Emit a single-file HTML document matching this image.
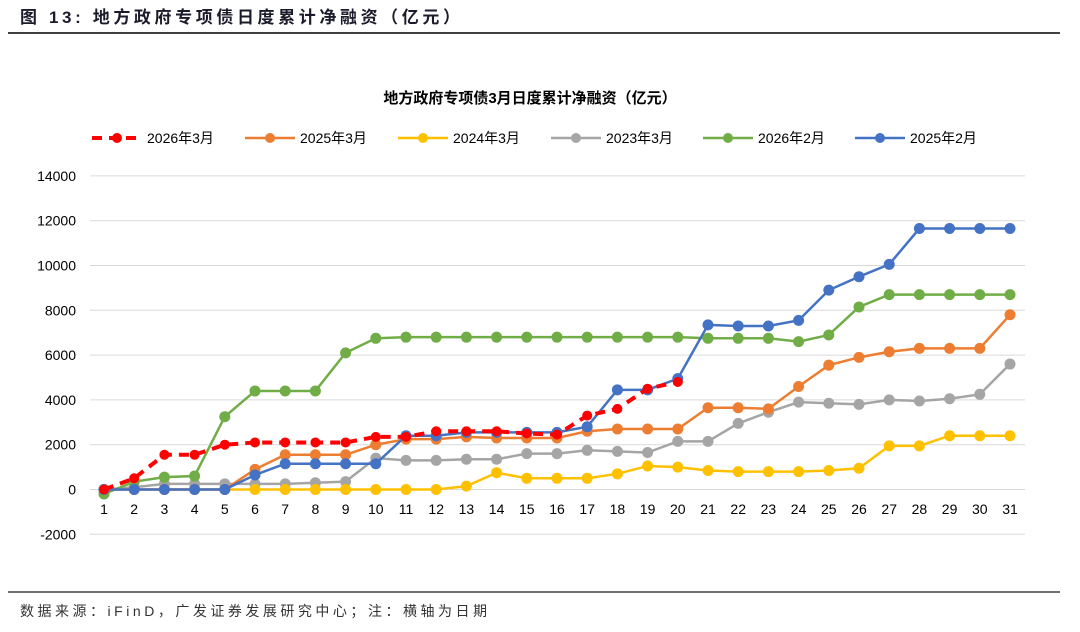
<!DOCTYPE html>
<html><head><meta charset="utf-8"><style>
body{margin:0;background:#fff;width:1080px;height:627px;overflow:hidden;font-family:"Liberation Sans","Noto Sans CJK SC",sans-serif}
</style></head><body>
<svg id="c" width="1080" height="627" xmlns="http://www.w3.org/2000/svg">
<text x="20" y="23" font-size="17" font-weight="bold" fill="#1b1b2b" textLength="440" lengthAdjust="spacing" font-family="Liberation Sans,Noto Sans CJK SC,sans-serif">图  13:  地方政府专项债日度累计净融资（亿元）</text>
<line x1="8" y1="33" x2="1060" y2="33" stroke="#404040" stroke-width="2"/>
<line x1="8" y1="592" x2="1060" y2="592" stroke="#404040" stroke-width="1.5"/>
<text x="20" y="616" font-size="14" fill="#333" textLength="467" lengthAdjust="spacing" font-family="Liberation Sans,Noto Sans CJK SC,sans-serif">数据来源：iFinD，广发证券发展研究中心；注：横轴为日期</text>
<text x="530" y="103" font-size="15" font-weight="bold" text-anchor="middle" fill="#000" font-family="Liberation Sans,Noto Sans CJK SC,sans-serif">地方政府专项债3月日度累计净融资（亿元）</text>
<g id="grid"></g><g id="axes"></g><g id="series"></g><g id="legend"></g>
</svg>
<script>
const days=[1,2,3,4,5,6,7,8,9,10,11,12,13,14,15,16,17,18,19,20,21,22,23,24,25,26,27,28,29,30,31];
const yTicks=[-2000,0,2000,4000,6000,8000,10000,12000,14000];
const seriesNames=["2026年3月","2025年3月","2024年3月","2023年3月","2026年2月","2025年2月"];
const s2026m3=[0,500,1550,1550,2000,2100,2100,2100,2100,2350,2350,2600,2600,2600,2500,2450,3300,3600,4500,4800];
const s2025m3=[0,0,0,0,0,900,1550,1550,1550,2000,2250,2250,2350,2300,2300,2300,2600,2700,2700,2700,3650,3650,3600,4600,5550,5900,6150,6300,6300,6300,7800];
const s2024m3=[0,0,0,0,0,0,0,0,0,0,0,0,150,750,500,500,500,700,1050,1000,850,800,800,800,850,950,1950,1950,2400,2400,2400];
const s2023m3=[0,100,250,250,250,250,250,300,350,1400,1300,1300,1350,1350,1600,1600,1750,1700,1650,2150,2150,2950,3450,3900,3850,3800,4000,3950,4050,4250,5600];
const s2026m2=[-200,350,550,600,3250,4400,4400,4400,6100,6750,6800,6800,6800,6800,6800,6800,6800,6800,6800,6800,6750,6750,6750,6600,6900,8150,8700,8700,8700,8700,8700];
const s2025m2=[0,0,0,0,0,650,1150,1150,1150,1150,2400,2400,2550,2550,2550,2550,2800,4450,4450,4950,7350,7300,7300,7550,8900,9500,10050,11650,11650,11650,11650];
const colors=["#ff0000","#ed7d31","#ffc000","#a5a5a5","#70ad47","#4472c4"];
const all=[s2026m3,s2025m3,s2024m3,s2023m3,s2026m2,s2025m2];
const NS="http://www.w3.org/2000/svg";
const X=d=>104+(d-1)*30.2;
const Y=v=>489.5-v*0.0224;
function mk(t,a,p){const e=document.createElementNS(NS,t);for(const k in a)e.setAttribute(k,a[k]);p.appendChild(e);return e;}
const grid=document.getElementById('grid'),axes=document.getElementById('axes'),ser=document.getElementById('series'),leg=document.getElementById('legend');
yTicks.forEach(t=>{
 if(t!==0){const l=mk('line',{x1:90,x2:1025,y1:Y(t),y2:Y(t),stroke:'#d9d9d9','stroke-width':1},grid);
 
 }
 const tx=mk('text',{x:76,y:Y(t)+5,'text-anchor':'end','font-size':14,fill:'#000'},axes);tx.textContent=t;
 
 
});
const ax=mk('line',{x1:90,x2:1025,y1:Y(0),y2:Y(0),stroke:'#d9d9d9','stroke-width':1},axes);


days.forEach(d=>{const tx=mk('text',{x:X(d),y:514,'text-anchor':'middle','font-size':14,fill:'#000'},axes);tx.textContent=d;
 
 });
const order=[3,2,1,4,5,0];
order.forEach(i=>{
 const vals=all[i];const g=mk('g',{},ser);
 
 
 const pts=vals.map((v,j)=>X(days[j])+','+Y(v)).join(' ');
 const pl=mk('polyline',{points:pts,fill:'none',stroke:colors[i],'stroke-width':i===0?4:2.5},g);
 if(i===0)pl.setAttribute('stroke-dasharray','10,7');
 
 
 vals.forEach((v,j)=>{const c=mk('circle',{cx:X(days[j]),cy:Y(v),r:i===0?5:5.5,fill:colors[i]},g);
  
  });
});
const lx=[92,245,398,551,703,855];
seriesNames.forEach((n,i)=>{
 const g=mk('g',{},leg);
 
 
 const l=mk('line',{x1:lx[i],x2:lx[i]+50,y1:138,y2:138,stroke:colors[i],'stroke-width':i===0?4:2.5},g);
 if(i===0)l.setAttribute('stroke-dasharray','10,7');
 mk('circle',{cx:lx[i]+25,cy:138,r:5,fill:colors[i]},g);
 const t=mk('text',{x:lx[i]+55,y:143,'font-size':14,fill:'#000'},g);t.textContent=n;
});
</script>
</body></html>
